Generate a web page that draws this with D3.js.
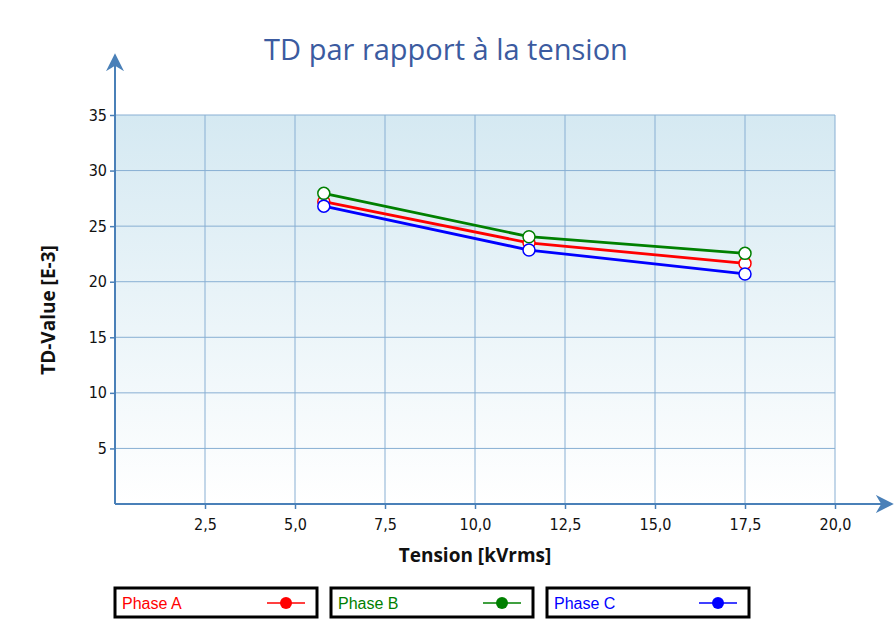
<!DOCTYPE html>
<html lang="fr">
<head>
  <meta charset="utf-8">
  <title>TD par rapport à la tension</title>
  <script src="https://d3js.org/d3.v7.min.js"></script>
  <style>
    body { margin: 0; background: #fff; }
  </style>
</head>
<body>
<script>
// data
var tension = [5.8, 11.5, 17.5];
var phaseA = [27.2, 23.5, 21.65];
var phaseB = [27.95, 24.05, 22.55];
var phaseC = [26.8, 22.85, 20.7];
var seriesNames = ['Phase A', 'Phase B', 'Phase C'];
var seriesColors = ['#ff0000', '#008000', '#0000ff'];
var xTicks = [2.5, 5, 7.5, 10, 12.5, 15, 17.5, 20];
var yTicks = [5, 10, 15, 20, 25, 30, 35];

var series = [phaseA, phaseB, phaseC];

var w = 894, h = 620;
var plotLeft = 115, plotRight = 835, plotTop = 115, plotBottom = 504;
var axisColor = '#4a80b8';

var svg = d3.select('body').append('svg')
  .attr('width', w)
  .attr('height', h);

var x = d3.scaleLinear().domain([0, 20]).range([plotLeft, plotRight]);
var y = d3.scaleLinear().domain([0, 35]).range([plotBottom, plotTop]);

// background gradient
var defs = svg.append('defs');
var grad = defs.append('linearGradient')
  .attr('id', 'bg').attr('x1', 0).attr('y1', 0).attr('x2', 0).attr('y2', 1);
grad.append('stop').attr('offset', '0%').attr('stop-color', '#d5e9f2');
grad.append('stop').attr('offset', '100%').attr('stop-color', '#ffffff');

svg.append('rect')
  .attr('x', plotLeft).attr('y', plotTop)
  .attr('width', plotRight - plotLeft).attr('height', plotBottom - plotTop)
  .attr('fill', 'url(#bg)');

// grid
svg.append('g').selectAll('line')
  .data(xTicks)
  .enter().append('line')
  .attr('x1', function(d) { return x(d); })
  .attr('x2', function(d) { return x(d); })
  .attr('y1', plotTop).attr('y2', plotBottom)
  .attr('stroke', '#88afd3').attr('stroke-width', 1);

svg.append('g').selectAll('line')
  .data(yTicks)
  .enter().append('line')
  .attr('x1', plotLeft).attr('x2', plotRight)
  .attr('y1', function(d) { return y(d); })
  .attr('y2', function(d) { return y(d); })
  .attr('stroke', '#88afd3').attr('stroke-width', 1);

// axes
var xAxis = svg.append('g')
  .attr('transform', 'translate(0,' + plotBottom + ')')
  .call(d3.axisBottom(x).tickValues(xTicks).tickSize(5).tickPadding(10)
    .tickFormat(function(d) { return d3.format('.1f')(d).replace('.', ','); }));
var yAxis = svg.append('g')
  .attr('transform', 'translate(' + plotLeft + ',0)')
  .call(d3.axisLeft(y).tickValues(yTicks).tickSize(5).tickPadding(3));

[xAxis, yAxis].forEach(function(g) {
  g.select('.domain').remove();
  g.selectAll('.tick line').attr('stroke', axisColor).attr('stroke-width', 1.5);
  g.selectAll('.tick text')
    .attr('fill', '#111')
    .style('font-family', "'DejaVu Sans Condensed', 'DejaVu Sans', sans-serif")
    .style('font-size', '16px');
});

// axis lines with arrows
defs.append('marker')
  .attr('id', 'arrow')
  .attr('viewBox', '0 0 10 10')
  .attr('refX', 9).attr('refY', 5)
  .attr('markerWidth', 18).attr('markerHeight', 18)
  .attr('markerUnits', 'userSpaceOnUse')
  .attr('orient', 'auto')
  .append('path').attr('d', 'M0,0 L10,5 L0,10 L3,5 Z').attr('fill', axisColor);

svg.append('line')
  .attr('x1', plotLeft).attr('y1', plotBottom).attr('x2', plotLeft).attr('y2', 55)
  .attr('stroke', axisColor).attr('stroke-width', 2)
  .attr('marker-end', 'url(#arrow)');
svg.append('line')
  .attr('x1', plotLeft).attr('y1', plotBottom).attr('x2', 892).attr('y2', plotBottom)
  .attr('stroke', axisColor).attr('stroke-width', 2)
  .attr('marker-end', 'url(#arrow)');

// lines and markers
var line = d3.line()
  .x(function(d, i) { return x(tension[i]); })
  .y(function(d) { return y(d); });

series.forEach(function(s, k) {
  svg.append('path')
    .datum(s)
    .attr('d', line)
    .attr('fill', 'none')
    .attr('stroke', seriesColors[k])
    .attr('stroke-width', 2.8);
});
series.forEach(function(s, k) {
  svg.append('g').selectAll('circle')
    .data(s)
    .enter().append('circle')
    .attr('cx', function(d, i) { return x(tension[i]); })
    .attr('cy', function(d) { return y(d); })
    .attr('r', 6)
    .attr('fill', '#fff')
    .attr('stroke', seriesColors[k])
    .attr('stroke-width', 1.5);
});

// title
svg.append('text')
  .attr('x', 446).attr('y', 60)
  .attr('text-anchor', 'middle')
  .attr('fill', '#3b5ba0')
  .style('font-family', "'Open Sans', 'DejaVu Sans', sans-serif")
  .style('font-size', '29px')
  .text('TD par rapport à la tension');

// axis titles
svg.append('text')
  .attr('x', 475).attr('y', 562)
  .attr('text-anchor', 'middle')
  .attr('fill', '#111')
  .style('font-family', "'Open Sans', 'DejaVu Sans', sans-serif")
  .style('font-size', '19px')
  .style('font-weight', 'bold')
  .text('Tension [kVrms]');

svg.append('text')
  .attr('text-anchor', 'middle')
  .attr('transform', 'translate(55,310) rotate(-90)')
  .attr('fill', '#111')
  .style('font-family', "'Open Sans', 'DejaVu Sans', sans-serif")
  .style('font-size', '19px')
  .style('font-weight', 'bold')
  .text('TD-Value [E-3]');

// legend
var legendX = [115, 331, 547];
var legend = svg.append('g').selectAll('g')
  .data(seriesNames)
  .enter().append('g')
  .attr('transform', function(d, i) { return 'translate(' + legendX[i] + ',588)'; });

legend.append('rect')
  .attr('width', 202).attr('height', 29)
  .attr('fill', '#fff')
  .attr('stroke', '#000').attr('stroke-width', 3);
legend.append('text')
  .attr('x', 7).attr('y', 21)
  .attr('fill', function(d, i) { return seriesColors[i]; })
  .style('font-family', "'Liberation Sans', Arial, sans-serif")
  .style('font-size', '16px')
  .text(function(d) { return d; });
legend.append('line')
  .attr('x1', 152).attr('x2', 190)
  .attr('y1', 15).attr('y2', 15)
  .attr('stroke', function(d, i) { return seriesColors[i]; })
  .attr('stroke-width', 1.5);
legend.append('circle')
  .attr('cx', 171).attr('cy', 15).attr('r', 6)
  .attr('fill', function(d, i) { return seriesColors[i]; });
</script>
</body>
</html>
